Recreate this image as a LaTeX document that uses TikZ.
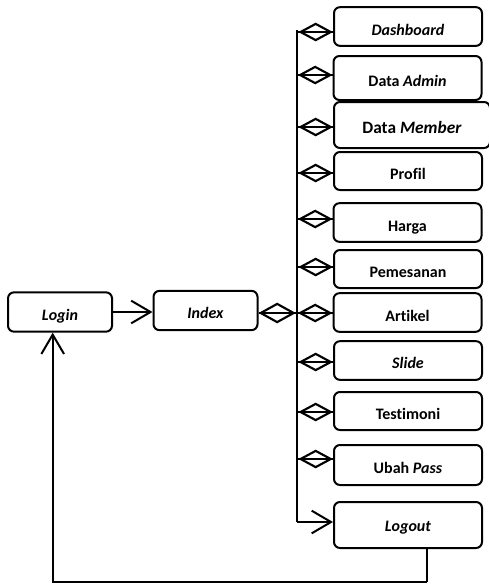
\documentclass[tikz,border=0pt]{standalone}
\usepackage{fontspec}
\setmainfont{Carlito}[Ligatures=NoCommon]
\usetikzlibrary{arrows.meta,positioning,calc}

\begin{document}
\begin{tikzpicture}[x=0.75pt,y=-0.75pt,
  every node/.style={draw,rounded corners=4.5pt,line width=1.5pt,align=center,inner sep=0pt,
    font=\bfseries\fontsize{12}{14}\selectfont,text height=12pt,text depth=0pt},
  menu/.style={minimum width=111pt,minimum height=29pt},
  page/.style={minimum width=78pt,minimum height=29.5pt},
  flow/.style={line width=1.3pt,-{Straight Barb[length=14.5pt,width=17pt,line width=1.5pt]}},
  has/.style={line width=1.1pt,postaction={draw,-{Diamond[open,length=26pt,width=14pt,line width=1.6pt]}}},
  bus/.style={line width=0.8pt}]
\useasboundingbox (0,0) rectangle (489,586);

% halaman utama
\node[page] (login) at (60,312) {\textit{Login}};
\node[page] (index) at (205.5,310.5) {\textit{Index}};

% menu admin
\node[menu,text height=14pt] (dash) at (408,26.5) {\textit{Dashboard}};
\node[menu,minimum height=33pt] (admin) at (407.5,78) {Data \textit{Admin}};
\node[menu,minimum width=117pt,minimum height=34.5pt,font=\bfseries\fontsize{13}{15}\selectfont] (member) at (412,125) {Data \textit{Member}};
\node[menu,minimum height=28.5pt] (profil) at (408,171) {Profil};
\node[menu,text height=14pt] (harga) at (407.5,222.5) {Harga};
\node[menu,minimum height=28.5pt,text height=13pt] (pesan) at (408,269) {Pemesanan};
\node[menu,text height=13pt] (artikel) at (407.5,312.5) {Artikel};
\node[menu] (slide) at (408,360.5) {\textit{Slide}};
\node[menu,minimum height=28.5pt] (testi) at (408,411) {Testimoni};
\node[menu,minimum height=30pt,text height=13pt] (ubah) at (408,465) {Ubah \textit{Pass}};
\node[menu,minimum height=34.5pt,text height=9pt] (logout) at (408,525) {\textit{Logout}};

% jalur menu
\coordinate (btop) at (297,30);
\coordinate (bidx) at (297,313);
\coordinate (bout) at (297,522);
\draw[bus] (btop) -- (bout);
\foreach \n/\y in {dash/32,admin/75,member/127,profil/173,harga/219,pesan/267,artikel/313,slide/362,testi/412,ubah/459}{
  \coordinate (b\n) at (297,\y);
  \draw[has] (b\n) -- (b\n -| \n.west);
}
\draw[line width=1.1pt,postaction={draw,{Diamond[open,length=28pt,width=15.5pt,line width=1.6pt]}-}] (bidx -| index.east) -- (bidx);
\draw[flow] (bout) -- (bout -| logout.west);
\draw[flow] (login.east) -- (login.east -| index.west);

% kembali ke login
\coordinate (corner) at (427,582);
\coordinate (back) at (52.7,582);
\draw[bus] (logout.south -| corner) -- (corner);
\draw[flow] (corner) -- (back) -- (back |- login.south);
\end{tikzpicture}
\end{document}
